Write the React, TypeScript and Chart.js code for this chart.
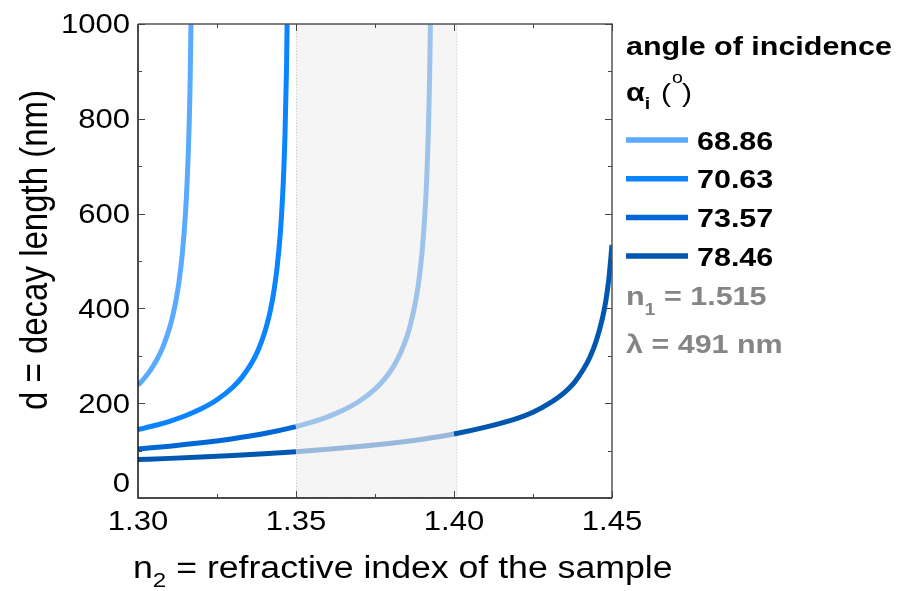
import React, { useEffect, useRef } from 'react';
import { Chart, registerables } from 'chart.js';

Chart.register(...registerables);

// refractive index of the sample (x) and decay length in nm (y)
const n2_6886 = [1.300, 1.302, 1.304, 1.306, 1.308, 1.310, 1.311, 1.312, 1.313, 1.314, 1.315, 1.3155, 1.316, 1.3165, 1.317];
const d_6886 = [238, 252.6, 270.2, 292.1, 320.4, 359.0, 384.4, 416.1, 457.3, 513.9, 598.5, 660.3, 746.2, 877.9, 1118.6];

const n2_7063 = [1.300, 1.305, 1.310, 1.315, 1.320, 1.325, 1.330, 1.333, 1.336, 1.338, 1.340, 1.341, 1.342, 1.343, 1.344, 1.345, 1.3455, 1.346, 1.3465, 1.347, 1.3474];
const d_7063 = [144.4, 152.4, 161.9, 173.5, 188.1, 207.2, 233.7, 255.6, 285.1, 311.7, 347.5, 370.8, 399.5, 436.2, 485.3, 555.8, 605.1, 670.2, 762.4, 907.3, 1111];

const n2_7357 = [1.300, 1.310, 1.320, 1.330, 1.340, 1.350, 1.355, 1.360, 1.365, 1.370, 1.375, 1.378, 1.381, 1.384, 1.386, 1.388, 1.389, 1.390, 1.391, 1.3915, 1.392, 1.3925, 1.393];
const d_7357 = [103.6, 109.4, 116.4, 125.0, 136.0, 150.5, 159.9, 171.2, 185.5, 204.1, 229.8, 250.9, 279.2, 320.1, 360.2, 420.4, 464.7, 526.8, 623.3, 696.8, 804.5, 985.2, 1393];

const n2_7846 = [1.300, 1.310, 1.320, 1.330, 1.340, 1.350, 1.360, 1.370, 1.380, 1.390, 1.400, 1.410, 1.420, 1.425, 1.430, 1.435, 1.438, 1.441, 1.443, 1.445, 1.447, 1.448, 1.449, 1.450];
const d_7846 = [81.0, 83.6, 86.5, 89.8, 93.5, 97.7, 102.7, 108.5, 115.4, 124.0, 134.9, 149.4, 168.0, 181.0, 199.0, 223.0, 243.0, 272.0, 297.0, 331.0, 380.0, 414.0, 462.0, 534.0];

const angleLabels = ['68.86', '70.63', '73.57', '78.46'];
const lineColors = ['#5aaaff', '#0a84ff', '#0068d6', '#0057b0'];
const fadedColors = ['#a9cdf2', '#a9cdf2', '#9dc3eb', '#99b9db'];
const highlightRange = [1.35, 1.401];

const xTicks = [1.30, 1.35, 1.40, 1.45];
const xTickLabels = ['1.30', '1.35', '1.40', '1.45'];
const xMinorTicks = [1.325, 1.375, 1.425];
const yTicks = [0, 200, 400, 600, 800, 1000];
const yTickLabels = ['0', '200', '400', '600', '800', '1000'];
const yMinorTicks = [100, 300, 500, 700, 900];

const FONT = '"Liberation Sans", Arial, sans-serif';
const SX = 1.15;

type Seg = { t: string; size: number; bold?: boolean; dy?: number; gap?: number };

function drawRich(ctx: CanvasRenderingContext2D, segs: Seg[], x: number, y: number, color: string) {
  let cx = x;
  for (const s of segs) {
    cx += (s.gap || 0);
    ctx.save();
    ctx.font = `${s.bold ? 'bold ' : ''}${s.size}px ${FONT}`;
    ctx.fillStyle = color;
    ctx.textAlign = 'left';
    ctx.textBaseline = 'alphabetic';
    ctx.translate(cx, y + (s.dy || 0));
    ctx.scale(SX, 1);
    ctx.fillText(s.t, 0, 0);
    const w = ctx.measureText(s.t).width * SX;
    ctx.restore();
    cx += w;
  }
}

function drawText(ctx: CanvasRenderingContext2D, t: string, x: number, y: number, font: string, color: string, align: CanvasTextAlign, baseline: CanvasTextBaseline) {
  ctx.save();
  ctx.font = font;
  ctx.fillStyle = color;
  ctx.textAlign = align;
  ctx.textBaseline = baseline;
  ctx.translate(x, y);
  ctx.scale(SX, 1);
  ctx.fillText(t, 0, 0);
  ctx.restore();
}

const decorPlugin = {
  id: 'decor',
  beforeDatasetsDraw(chart: any) {
    const { ctx, chartArea, scales } = chart;
    const x0 = scales.x.getPixelForValue(highlightRange[0]);
    const x1 = scales.x.getPixelForValue(highlightRange[1]);
    ctx.save();
    ctx.fillStyle = '#f5f5f5';
    ctx.fillRect(x0, chartArea.top, x1 - x0, chartArea.bottom - chartArea.top);
    ctx.strokeStyle = '#c4c4c4';
    ctx.lineWidth = 1;
    ctx.setLineDash([1, 2]);
    ctx.strokeRect(x0 + 0.5, chartArea.top + 0.5, x1 - x0 - 1, chartArea.bottom - chartArea.top - 1);
    ctx.restore();
  },
  afterDraw(chart: any) {
    const { ctx, chartArea, scales } = chart;
    const { left, right, top, bottom } = chartArea;
    ctx.save();
    // frame
    ctx.lineWidth = 1.5;
    ctx.strokeStyle = '#555';
    ctx.beginPath();
    ctx.moveTo(left, top); ctx.lineTo(right, top); ctx.lineTo(right, bottom);
    ctx.stroke();
    ctx.strokeStyle = '#111';
    ctx.beginPath();
    ctx.moveTo(left, top); ctx.lineTo(left, bottom); ctx.lineTo(right, bottom);
    ctx.stroke();
    // ticks
    ctx.lineWidth = 1;
    ctx.strokeStyle = '#444';
    const tick = (v: number, len: number, axis: 'x' | 'y') => {
      ctx.beginPath();
      if (axis === 'x') {
        const px = Math.round(scales.x.getPixelForValue(v)) + 0.5;
        ctx.moveTo(px, bottom); ctx.lineTo(px, bottom - len);
        ctx.moveTo(px, top); ctx.lineTo(px, top + len);
      } else {
        const py = Math.round(scales.y.getPixelForValue(v)) + 0.5;
        ctx.moveTo(left, py); ctx.lineTo(left + len, py);
        ctx.moveTo(right, py); ctx.lineTo(right - len, py);
      }
      ctx.stroke();
    };
    xTicks.forEach(v => tick(v, 7, 'x'));
    xMinorTicks.forEach(v => tick(v, 4, 'x'));
    yTicks.forEach(v => tick(v, 7, 'y'));
    yMinorTicks.forEach(v => tick(v, 4, 'y'));
    ctx.restore();

    // tick labels
    const tf = `27px ${FONT}`;
    xTicks.forEach((v, i) => {
      drawText(ctx, xTickLabels[i], scales.x.getPixelForValue(v), 530, tf, '#000', 'center', 'alphabetic');
    });
    yTicks.forEach((v, i) => {
      let py = scales.y.getPixelForValue(v) + 2;
      if (v === 0) py -= 15;
      drawText(ctx, yTickLabels[i], 130, py, tf, '#000', 'right', 'middle');
    });

    // y title (rotated)
    ctx.save();
    ctx.translate(47, 250);
    ctx.scale(SX, 1);
    ctx.rotate(-Math.PI / 2);
    ctx.font = `33px ${FONT}`;
    ctx.fillStyle = '#000';
    ctx.textAlign = 'center';
    ctx.textBaseline = 'alphabetic';
    ctx.fillText('d = decay length (nm)', 0, 0);
    ctx.restore();

    // x title
    drawRich(ctx, [
      { t: 'n', size: 31 },
      { t: '2', size: 21, dy: 9 },
      { t: ' = refractive index of the sample', size: 31 },
    ], 133, 578, '#000');

    // legend
    const lx = 626;
    drawRich(ctx, [{ t: 'angle of incidence', size: 26.5, bold: true }], lx, 55, '#000');
    drawRich(ctx, [
      { t: 'α', size: 26.5, bold: true },
      { t: 'i', size: 17, bold: true, dy: 8 },
    ], lx, 101, '#000');
    drawRich(ctx, [{ t: '(', size: 26 }], 661, 102, '#000');
    drawRich(ctx, [{ t: 'o', size: 17 }], 672, 83, '#000');
    drawRich(ctx, [{ t: ')', size: 26 }], 682, 102, '#000');

    angleLabels.forEach((lab, i) => {
      const ly = 140 + i * 38.7;
      ctx.save();
      ctx.strokeStyle = lineColors[i];
      ctx.lineWidth = 5.5;
      ctx.beginPath();
      ctx.moveTo(lx, ly); ctx.lineTo(688, ly);
      ctx.stroke();
      ctx.restore();
      drawRich(ctx, [{ t: lab, size: 26.5, bold: true }], 697, ly + 9.5, '#000');
    });

    const gray = '#858585';
    drawRich(ctx, [
      { t: 'n', size: 26.5, bold: true },
      { t: '1', size: 17, bold: true, dy: 10 },
      { t: ' = 1.515', size: 26.5, bold: true },
    ], lx, 305, gray);
    drawRich(ctx, [{ t: 'λ = 491 nm', size: 26.5, bold: true }], lx, 353, gray);
  },
};

function makeSet(xs: number[], ys: number[], i: number) {
  return {
    label: angleLabels[i],
    data: xs.map((x, k) => ({ x, y: ys[k] })),
    borderColor: lineColors[i],
    borderWidth: 5,
    pointRadius: 0,
    cubicInterpolationMode: 'monotone' as const,
    clip: 0,
    segment: {
      borderColor: (c: any) => {
        const mid = (c.p0.parsed.x + c.p1.parsed.x) / 2;
        return mid > highlightRange[0] && mid < highlightRange[1] ? fadedColors[i] : undefined;
      },
    },
  };
}

export default function App() {
  const ref = useRef<HTMLCanvasElement | null>(null);
  useEffect(() => {
    document.body.style.margin = '0';
    const canvas = ref.current;
    if (!canvas) return;
    const chart = new Chart(canvas, {
      type: 'line',
      data: {
        datasets: [
          makeSet(n2_6886, d_6886, 0),
          makeSet(n2_7063, d_7063, 1),
          makeSet(n2_7357, d_7357, 2),
          makeSet(n2_7846, d_7846, 3),
        ],
      },
      options: {
        animation: false,
        responsive: false,
        devicePixelRatio: 1,
        layout: { padding: { top: 24, right: 290, left: 0, bottom: 0 } },
        plugins: { legend: { display: false }, tooltip: { enabled: false } },
        scales: {
          x: {
            type: 'linear',
            min: 1.30,
            max: 1.45,
            grid: { display: false },
            border: { display: false },
            ticks: { display: false, stepSize: 0.05 },
            afterFit: (s: any) => { s.height = 93; },
          },
          y: {
            type: 'linear',
            min: 0,
            max: 1000,
            grid: { display: false },
            border: { display: false },
            ticks: { display: false, stepSize: 200 },
            afterFit: (s: any) => { s.width = 138; },
          },
        },
      },
      plugins: [decorPlugin],
    });
    return () => chart.destroy();
  }, []);
  return (
    <div style={{ position: 'absolute', left: 0, top: 0, width: 902, height: 591 }}>
      <canvas ref={ref} width={902} height={591} style={{ width: 902, height: 591 }} />
    </div>
  );
}
